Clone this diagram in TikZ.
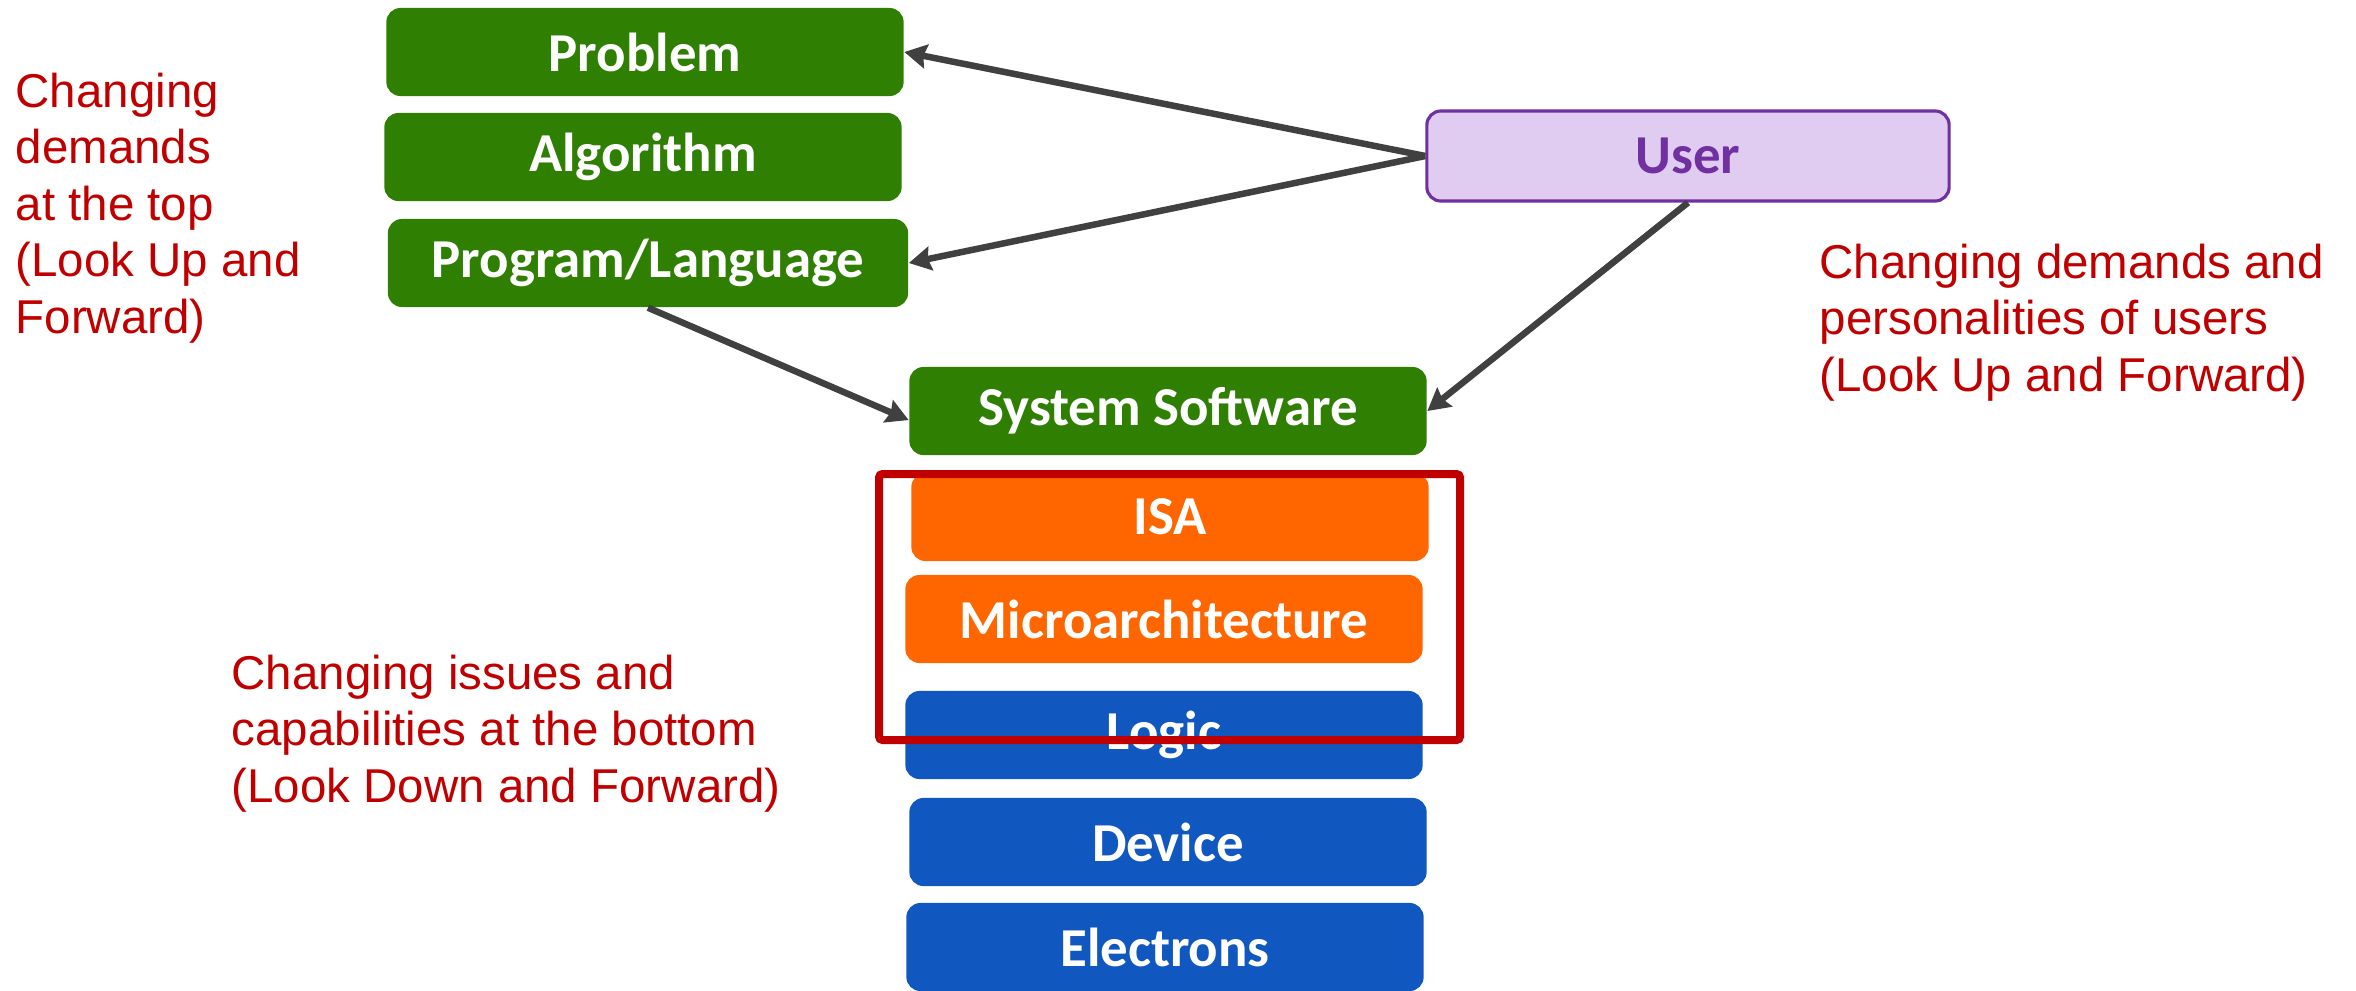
\documentclass[tikz,border=0pt]{standalone}
\usepackage{fontspec}
\setmainfont{Liberation Sans}
\newfontfamily\layerfont{Carlito}
\usetikzlibrary{arrows.meta}
\definecolor{layergreen}{RGB}{47,127,2}
\definecolor{layerorange}{RGB}{255,102,0}
\definecolor{layerblue}{RGB}{16,88,192}
\definecolor{userfill}{RGB}{224,204,240}
\definecolor{userdraw}{RGB}{112,48,160}
\definecolor{notered}{RGB}{192,0,0}
\definecolor{arrowgray}{RGB}{64,64,64}
\tikzset{
  layer/.style={rounded corners=4pt, minimum width=5.17cm, minimum height=0.88cm,
    text=white, font=\layerfont\bfseries\fontsize{15.6}{18}\selectfont},
  note/.style={text=notered, align=left, inner sep=0pt, anchor=north west,
    font=\fontsize{13.5}{16.1}\selectfont},
  link/.style={draw=arrowgray, line width=1.85pt,
    -{Stealth[length=6.3pt, width=6.8pt, inset=0.8pt]}}
}

\begin{document}
\begin{tikzpicture}[x=0.01cm, y=-0.01cm]
            \useasboundingbox (0,0) rectangle (2356,990);
            % software side
            \node[layer, fill=layergreen] (problem) at (645,52) {Problem};
            \node[layer, fill=layergreen] (algorithm) at (643,157) {Algorithm};
            \node[layer, fill=layergreen, minimum width=5.2cm] (program) at (648,263) {Program/Language};
            \node[layer, fill=userfill, draw=userdraw, line width=0.9pt, text=userdraw,
              minimum width=5.22cm, minimum height=0.9cm] (user) at (1688,156) {User};
            \node[layer, fill=layergreen] (syssw) at (1168,411) {System Software};
            % hardware side
            \node[layer, fill=layerorange] (isa) at (1170,517) {ISA};
            \node[layer, fill=layerorange] (uarch) at (1164,619) {Microarchitecture};
            \node[layer, fill=layerblue] (logic) at (1164,735) {Logic};
            \node[layer, fill=layerblue] (device) at (1168,842) {Device};
            \node[layer, fill=layerblue] (electrons) at (1165,947) {Electrons};
            \draw[notered, line width=0.08cm, rounded corners=1pt] (879,474) rectangle (1460,740);
            % arrows
            \draw[link] (user.west) -- (problem.east);
            \draw[link] (user.west) -- (program.east);
            \draw[link] (program.south) -- (syssw.182);
            \draw[link] (user.south) -- (syssw.east);
            % notes
            \node[note] (topnote) at (15,72) {Changing\\demands\\at the top\\(Look Up and\\Forward)};
            \node[note] (usernote) at (1819,243) {Changing demands and\\personalities of users\\(Look Up and Forward)};
            \node[note] (bottomnote) at (231,654) {Changing issues and\\capabilities at the bottom\\(Look Down and Forward)};
        \end{tikzpicture}
\end{document}
